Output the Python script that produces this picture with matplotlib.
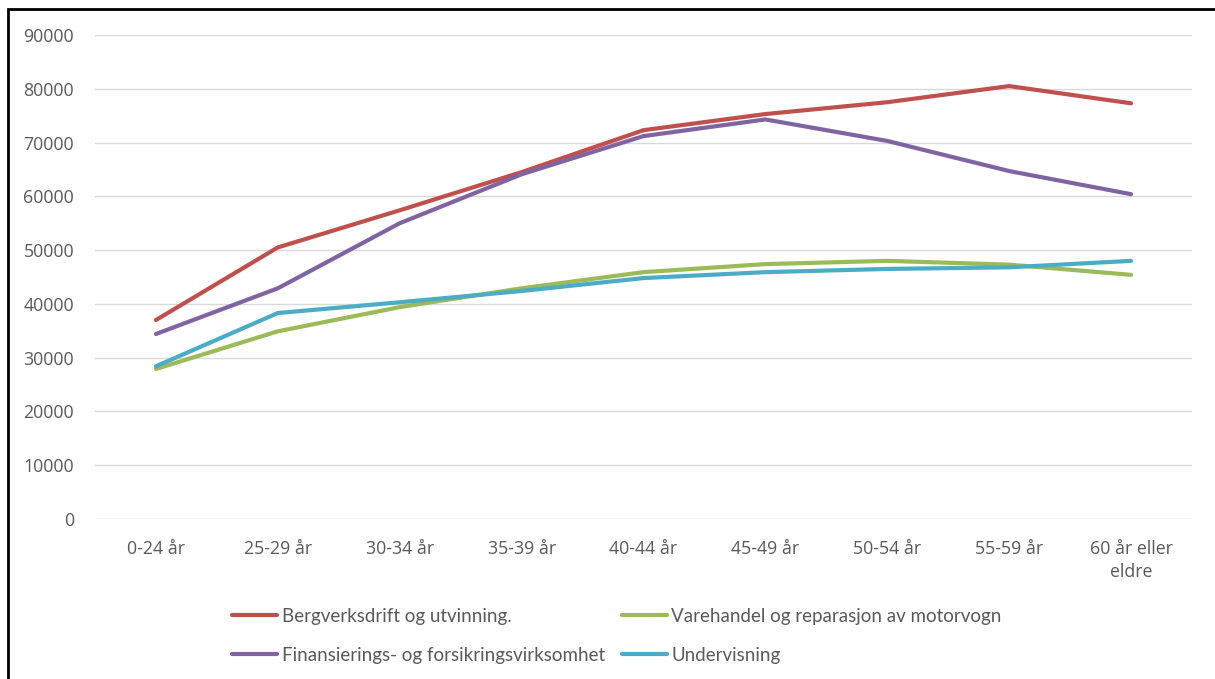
import matplotlib.pyplot as plt
from matplotlib.patches import Rectangle

plt.rcParams['font.family'] = ['Open Sans', 'DejaVu Sans']

# Age groups and average wages per industry
age_groups = ['0-24 år', '25-29 år', '30-34 år', '35-39 år', '40-44 år',
              '45-49 år', '50-54 år', '55-59 år', '60 år eller\neldre']
bergverk = [37000, 50500, 57400, 64500, 72300, 75300, 77500, 80500, 77300]
varehandel = [27900, 34900, 39400, 42900, 45900, 47400, 48000, 47300, 45400]
finans = [34400, 42900, 55000, 64100, 71200, 74300, 70300, 64700, 60400]
undervisning = [28400, 38300, 40300, 42400, 44800, 45900, 46500, 46800, 48000]

fig = plt.figure(figsize=(12.15, 6.79), dpi=100)
ax = fig.add_axes([95 / 1215, 1 - 519 / 679, 1097 / 1215, 484 / 679])

x = range(len(age_groups))
l_berg, = ax.plot(x, bergverk, color='#C0504D', lw=3, solid_capstyle='round',
                  label='Bergverksdrift og utvinning.')
l_vare, = ax.plot(x, varehandel, color='#9BBB59', lw=3, solid_capstyle='round',
                  label='Varehandel og reparasjon av motorvogn')
l_fin, = ax.plot(x, finans, color='#8064A2', lw=3, solid_capstyle='round',
                 label='Finansierings- og forsikringsvirksomhet')
l_und, = ax.plot(x, undervisning, color='#4BACC6', lw=3, solid_capstyle='round',
                 label='Undervisning')

ax.set_xlim(-0.5, len(age_groups) - 0.5)
ax.set_ylim(0, 90000)
ax.set_yticks(range(0, 90001, 10000))
ax.set_xticks(list(x))
ax.set_xticklabels(age_groups, linespacing=1.35)
ax.yaxis.grid(True, color='#D9D9D9', lw=1)
ax.set_axisbelow(True)
for s in ax.spines.values():
    s.set_visible(False)
ax.tick_params(length=0, labelsize=12.8, labelcolor='#595959')
ax.tick_params(axis='x', pad=15)
ax.tick_params(axis='y', pad=15)

# Legend in two columns under the plot (filled column by column)
leg = fig.legend(handles=[l_berg, l_fin, l_vare, l_und], ncol=2,
                 loc='upper left', bbox_to_anchor=(215 / 1215, 1 - 591 / 679),
                 frameon=False, handlelength=2.4, handletextpad=0.25,
                 columnspacing=0.9, labelspacing=1.18,
                 prop={'family': 'Lato', 'size': 13.5})
for t in leg.get_texts():
    t.set_color('#595959')

# Black frame on the left and top edge
fig.add_artist(Rectangle((8 / 1215, -0.1), 1.2, 1 - 9 / 679 + 0.1,
                         transform=fig.transFigure, fill=False,
                         edgecolor='black', lw=2))

fig.savefig('out.png', dpi=100)
